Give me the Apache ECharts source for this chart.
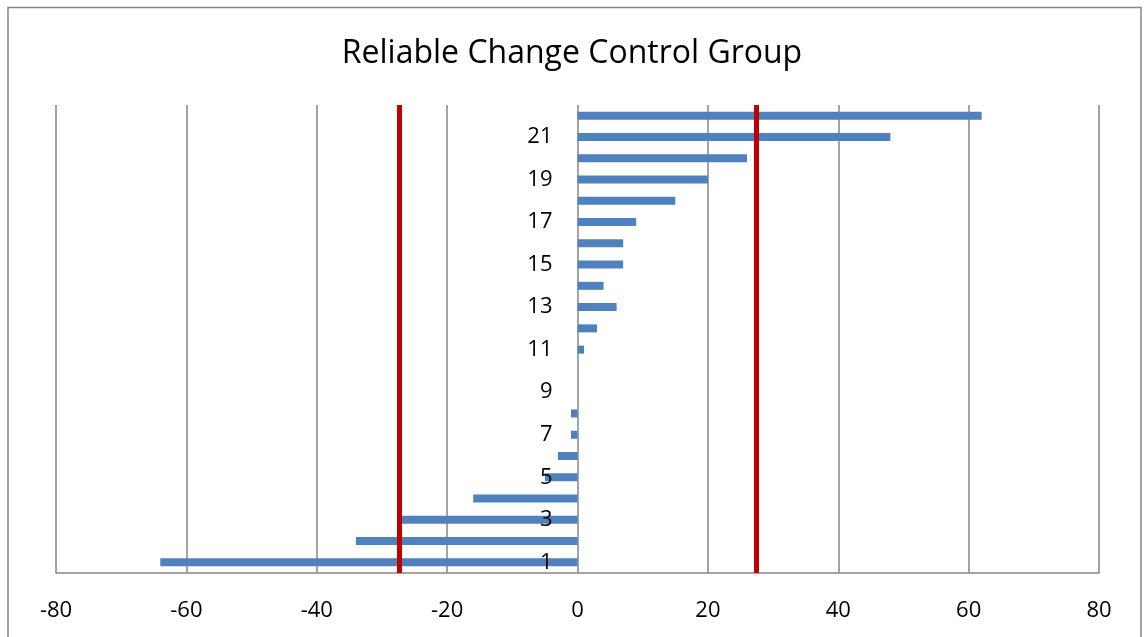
<!DOCTYPE html>
<html>
<head>
<meta charset="utf-8">
<script src="https://cdn.jsdelivr.net/npm/echarts@6/dist/echarts.min.js"></script>
<style>
html,body{margin:0;padding:0;background:#fff;}
#chart{width:1144px;height:637px;}
</style>
</head>
<body>
<div id="chart"></div>
<script>
const categories = ['1','2','3','4','5','6','7','8','9','10','11','12','13','14','15','16','17','18','19','20','21','22'];
const changeValues = [-64, -34, -27, -16, -5, -3, -1, -1, 0, 0, 1, 3, 6, 4, 7, 7, 9, 15, 20, 26, 48, 62];
const cutoffLines = [-27.4, 27.4];
const xTicks = [-80, -60, -40, -20, 0, 20, 40, 60, 80];

const chart = echarts.init(document.getElementById('chart'));
const gray = '#868686';
chart.setOption({
  backgroundColor: '#fff',
  animation: false,
  title: {
    text: 'Reliable Change Control Group',
    left: 'center',
    top: 33,
    textStyle: { fontFamily: 'Open Sans', fontSize: 32, fontWeight: 'normal', color: '#000' }
  },
  graphic: [{
    type: 'rect',
    shape: { x: 8, y: 7.5, width: 1133, height: 640 },
    style: { fill: 'none', stroke: gray, lineWidth: 1.5 },
    z: 100
  }],
  grid: { left: 56, right: 45, top: 105, bottom: 64, containLabel: false },
  xAxis: {
    type: 'value',
    min: xTicks[0],
    max: xTicks[xTicks.length - 1],
    interval: 20,
    axisLine: { show: true, onZero: false, lineStyle: { color: gray, width: 1.5 } },
    axisTick: { show: false },
    axisLabel: { fontFamily: 'Open Sans', fontSize: 22, color: '#000', margin: 27 },
    splitLine: { show: true, lineStyle: { color: gray, width: 1.5 } }
  },
  yAxis: {
    type: 'category',
    data: categories,
    position: 'left',
    offset: -521.5,
    z: 10,
    axisLine: { show: false },
    axisTick: { show: false },
    axisLabel: { interval: 1, fontFamily: 'Open Sans', fontSize: 22, color: '#000', margin: 25 },
    splitLine: { show: false }
  },
  series: [{
    type: 'bar',
    data: changeValues,
    barWidth: 8,
    itemStyle: { color: '#4f81bd' },
    markLine: {
      silent: true,
      symbol: ['none', 'none'],
      label: { show: false },
      lineStyle: { color: '#c00000', width: 5, type: 'solid' },
      data: cutoffLines.map(v => ({ xAxis: v }))
    }
  }]
});
</script>
</body>
</html>
